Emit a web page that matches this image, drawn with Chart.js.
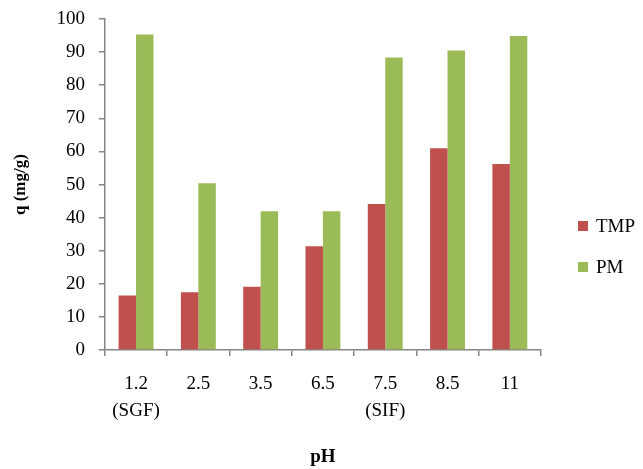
<!DOCTYPE html>
<html>
<head>
<meta charset="utf-8">
<script src="https://cdn.jsdelivr.net/npm/chart.js@4.4.1/dist/chart.umd.min.js"></script>
<style>
    body { margin: 0; background: #fff; }
    #wrap { position: relative; width: 643px; height: 469px; }
    .legend-item { position: absolute; left: 578px; font-family: "Liberation Serif", "Times New Roman", serif; font-size: 19px; color: #000; line-height: 20px; }
    .legend-item span { display: inline-block; width: 10px; height: 10px; margin-right: 8px; vertical-align: 1px; }
</style>
</head>
<body>
<div id="wrap">
    <canvas id="phChart" width="643" height="469"></canvas>
    <div id="legend"></div>
</div>
<script>
    // pH values (category labels)
    const phLabels = [['1.2', '(SGF)'], '2.5', '3.5', '6.5', ['7.5', '(SIF)'], '8.5', '11'];
    // adsorption q (mg/g)
    const tmpValues = [16.5, 17.5, 19.1, 31.4, 44.1, 61.0, 56.2];
    const pmValues = [95.3, 50.4, 41.9, 41.9, 88.4, 90.5, 94.9];

    const serif = '"Liberation Serif", "Times New Roman", serif';
    const axisGrey = '#868686';

    const ctx = document.getElementById('phChart').getContext('2d');
    const chart = new Chart(ctx, {
        type: 'bar',
        data: {
            labels: phLabels,
            datasets: [{
                label: 'TMP',
                data: tmpValues,
                backgroundColor: '#C0504D'
            }, {
                label: 'PM',
                data: pmValues,
                backgroundColor: '#9BBB59'
            }]
        },
        options: {
            responsive: false,
            animation: false,
            categoryPercentage: 0.56,
            barPercentage: 1,
            layout: {
                padding: { top: 19, right: 102, bottom: 1, left: 0 }
            },
            plugins: {
                legend: { display: false },
                tooltip: { enabled: false }
            },
            scales: {
                x: {
                    grid: {
                        drawOnChartArea: false,
                        tickLength: 6,
                        color: axisGrey,
                        lineWidth: 1.5
                    },
                    border: { color: axisGrey, width: 1.5 },
                    ticks: {
                        color: '#000',
                        padding: 14,
                        font: { family: serif, size: 19, lineHeight: 1.45 }
                    },
                    title: {
                        display: true,
                        text: 'pH',
                        color: '#000',
                        padding: { top: 6, bottom: 0 },
                        font: { family: serif, size: 19, weight: 'bold' }
                    }
                },
                y: {
                    min: 0,
                    max: 100,
                    // tick padding gets added on top of the axis too, drop it
                    afterFit: function (scale) {
                        scale.paddingTop = 0;
                    },
                    grid: {
                        drawOnChartArea: false,
                        tickLength: 6,
                        color: axisGrey,
                        lineWidth: 1.5
                    },
                    border: { color: axisGrey, width: 1.5 },
                    ticks: {
                        stepSize: 10,
                        color: '#000',
                        padding: 14,
                        font: { family: serif, size: 19 }
                    },
                    title: {
                        display: true,
                        text: 'q (mg/g)',
                        color: '#000',
                        padding: { top: 10, bottom: 12 },
                        font: { family: serif, size: 17, weight: 'bold' }
                    }
                }
            }
        }
    });

    // simple html legend on the right
    const legendTops = [216, 257];
    chart.data.datasets.forEach(function (ds, i) {
        const item = document.createElement('div');
        item.className = 'legend-item';
        item.style.top = legendTops[i] + 'px';
        item.innerHTML = '<span style="background:' + ds.backgroundColor + '"></span>' + ds.label;
        document.getElementById('legend').appendChild(item);
    });
</script>
</body>
</html>
